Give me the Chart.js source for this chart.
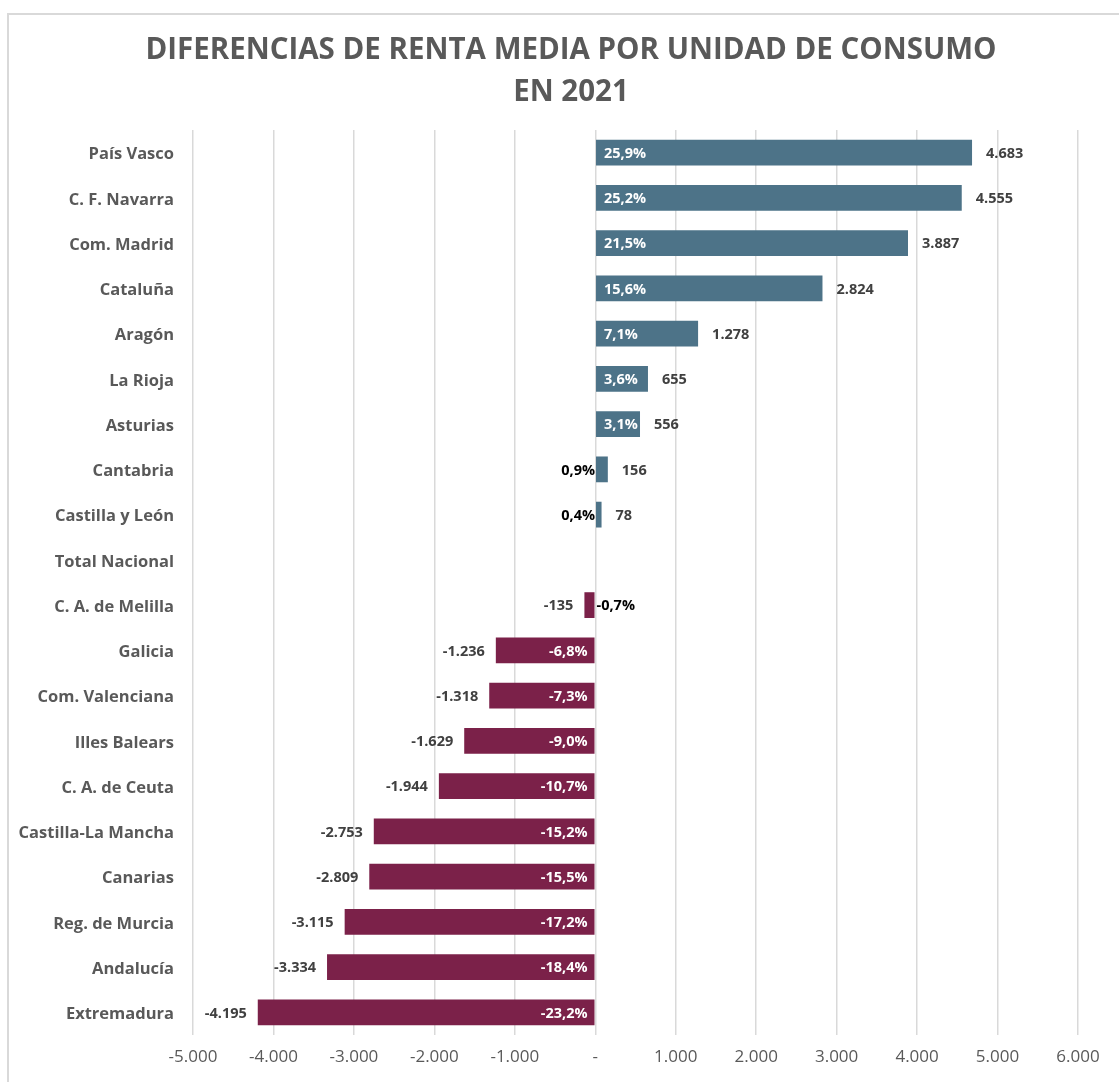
<!DOCTYPE html>
<html>
<head>
<meta charset="utf-8">
<script src="https://cdn.jsdelivr.net/npm/chart.js@4"></script>
<style>
  html, body { margin: 0; padding: 0; background: #fff; }
  #frame {
    position: absolute; left: 7px; top: 13px; width: 1120px; height: 1080px;
    border-left: 2px solid #d9d9d9; border-top: 2px solid #d9d9d9; box-sizing: border-box;
  }
  #wrap { position: absolute; left: 0; top: 0; width: 1119px; height: 1082px; }
</style>
</head>
<body>
<div id="frame"></div>
<div id="wrap"><canvas id="rentaChart" width="1119" height="1082"></canvas></div>
<script>
// Data
const categories = [
    'País Vasco', 'C. F. Navarra', 'Com. Madrid', 'Cataluña', 'Aragón', 'La Rioja',
    'Asturias', 'Cantabria', 'Castilla y León', 'Total Nacional', 'C. A. de Melilla',
    'Galicia', 'Com. Valenciana', 'Illes Balears', 'C. A. de Ceuta', 'Castilla-La Mancha',
    'Canarias', 'Reg. de Murcia', 'Andalucía', 'Extremadura'
];
const diffValues = [
    4683, 4555, 3887, 2824, 1278, 655, 556, 156, 78, 0, -135,
    -1236, -1318, -1629, -1944, -2753, -2809, -3115, -3334, -4195
];
const diffPcts = [
    25.9, 25.2, 21.5, 15.6, 7.1, 3.6, 3.1, 0.9, 0.4, 0, -0.7,
    -6.8, -7.3, -9.0, -10.7, -15.2, -15.5, -17.2, -18.4, -23.2
];
const xTicks = [-5000, -4000, -3000, -2000, -1000, 0, 1000, 2000, 3000, 4000, 5000, 6000];
const titleLines = ['DIFERENCIAS DE RENTA MEDIA POR UNIDAD DE CONSUMO', 'EN 2021'];

const FONT = '"Open Sans", sans-serif';
const BLUE = '#4d7388';
const MAROON = '#7b2149';

const fmtThousands = (v) => {
    const s = Math.abs(v).toString().replace(/\B(?=(\d{3})+(?!\d))/g, '.');
    return (v < 0 ? '-' : '') + s;
};
const fmtPct = (p) => p.toFixed(1).replace('.', ',') + '%';

// Title drawn by hand: it is centred on the whole frame, not on the plot
const frameTitle = {
    id: 'frameTitle',
    afterDraw(chart) {
        const ctx = chart.ctx;
        ctx.save();
        ctx.font = 'bold 29.5px ' + FONT;
        ctx.fillStyle = '#595959';
        ctx.textAlign = 'center';
        ctx.textBaseline = 'middle';
        ctx.fillText(titleLines[0], 571, 51);
        ctx.fillText(titleLines[1], 571, 93);
        ctx.restore();
    }
};

// Custom labels: value at bar end, percent at zero end
const barLabels = {
    id: 'barLabels',
    afterDatasetsDraw(chart) {
        const ctx = chart.ctx;
        const meta = chart.getDatasetMeta(0);
        ctx.save();
        ctx.textBaseline = 'middle';
        ctx.font = 'bold 14.5px ' + FONT;
        meta.data.forEach((bar, i) => {
            const v = diffValues[i];
            if (v === 0) return;
            const p = diffPcts[i];
            const width = Math.abs(bar.x - bar.base);
            const y = bar.y + 1;

            // value label outside bar end
            ctx.fillStyle = '#404040';
            if (v > 0) {
                ctx.textAlign = 'left';
                ctx.fillText(fmtThousands(v), bar.x + 14, y);
            } else {
                ctx.textAlign = 'right';
                ctx.fillText(fmtThousands(v), bar.x - 11, y);
            }

            // percent label near zero
            if (width > 25) {
                ctx.fillStyle = '#ffffff';
                if (v > 0) {
                    ctx.textAlign = 'left';
                    ctx.fillText(fmtPct(p), bar.base + 8, y);
                } else {
                    ctx.textAlign = 'right';
                    ctx.fillText(fmtPct(p), bar.base - 7, y);
                }
            } else {
                ctx.fillStyle = '#000000';
                if (v > 0) {
                    ctx.textAlign = 'right';
                    ctx.fillText(fmtPct(p), bar.base - 1, y);
                } else {
                    ctx.textAlign = 'left';
                    ctx.fillText(fmtPct(p), bar.base + 2, y);
                }
            }
        });
        ctx.restore();
    }
};

const ctx = document.getElementById('rentaChart').getContext('2d');
new Chart(ctx, {
    type: 'bar',
    data: {
        labels: categories,
        datasets: [{
            data: diffValues,
            backgroundColor: diffValues.map(v => v >= 0 ? BLUE : MAROON),
            borderWidth: 0,
            barPercentage: 0.57,
            categoryPercentage: 1
        }]
    },
    options: {
        indexAxis: 'y',
        responsive: false,
        animation: false,
        layout: { padding: { left: 0, right: 41, top: 130, bottom: 0 } },
        plugins: {
            legend: { display: false },
            tooltip: { enabled: false },
            title: { display: false }
        },
        scales: {
            x: {
                type: 'linear',
                min: -5000,
                max: 6000,
                afterBuildTicks: (axis) => { axis.ticks = xTicks.map(v => ({ value: v })); },
                afterFit: (axis) => { axis.height = 47; },
                grid: { color: '#d9d9d9', lineWidth: 1.5, drawTicks: false },
                border: { display: false },
                ticks: {
                    color: '#595959',
                    padding: 12,
                    font: { family: FONT, size: 17 },
                    callback: (v) => v === 0 ? '-' : fmtThousands(v)
                }
            },
            y: {
                afterFit: (axis) => { axis.width = 193; },
                grid: { display: false, drawTicks: false },
                border: { display: false },
                ticks: {
                    color: '#595959',
                    padding: 19,
                    labelOffset: 2,
                    font: { family: FONT, size: 16.5, weight: 'bold' }
                }
            }
        }
    },
    plugins: [barLabels, frameTitle]
});
</script>
</body>
</html>
